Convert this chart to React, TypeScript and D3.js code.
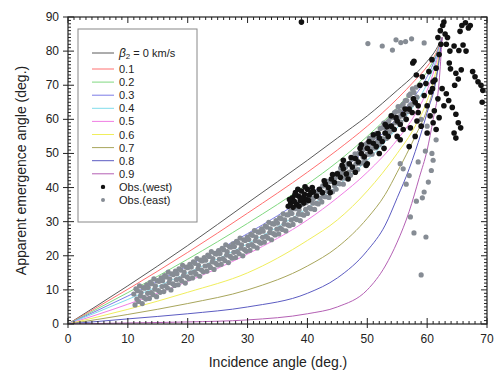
import * as d3 from "d3";

// theoretical curves, one per surface S-wave velocity (km/s)
const betaLabels = ["0 km/s", "0.1", "0.2", "0.3", "0.4", "0.5", "0.6", "0.7", "0.8", "0.9"];
const curveColors = ["#5a5a5a", "#ff7070", "#80d880", "#7c7ce6", "#80dcec", "#f07ee4", "#f0ee5c", "#a8a65c", "#5c5cc2", "#b460b4"];

const curve00 = [[0, 0], [10, 11.2], [20, 23], [30, 35.5], [40, 48], [45, 54.5], [50, 61], [55, 68.5], [58, 73.2], [60, 77], [61.5, 80.5], [62.5, 84]];
const curve01 = [[0, 0], [10, 10.2], [20, 21], [30, 32.5], [40, 44.5], [45, 51], [50, 58], [55, 66], [58, 71.5], [60, 75.5], [61.5, 79.5], [62.5, 84]];
const curve02 = [[0, 0], [10, 9.2], [20, 19], [30, 29.5], [40, 41], [45, 47.5], [50, 55], [55, 63.5], [58, 69.5], [60, 74], [61.5, 79], [62.5, 84]];
const curve03 = [[0, 0], [10, 8.2], [20, 17], [30, 26.5], [40, 37.5], [45, 44], [50, 51.5], [55, 60.5], [58, 67], [60, 72.5], [61.5, 78.5], [62.5, 84]];
const curve04 = [[0, 0], [10, 7.2], [20, 15], [30, 23.5], [40, 34], [45, 40.5], [50, 48], [55, 57.5], [58, 64.5], [60, 70.5], [61.5, 77.5], [62.5, 84]];
const curve05 = [[0, 0], [10, 5.8], [20, 12.5], [30, 20.5], [40, 30.5], [45, 37], [50, 44.5], [55, 54], [58, 61.5], [60, 68.5], [61.5, 76.5], [62.5, 84]];
const curve06 = [[0, 0], [10, 4.3], [20, 9.3], [30, 15], [40, 24.5], [45, 30.5], [50, 39], [55, 50], [58, 58], [60, 65.5], [61.5, 74.5], [62.5, 84]];
const curve07 = [[0, 0], [10, 2.8], [20, 6], [30, 10], [40, 17], [45, 22.5], [50, 31], [53, 38], [55, 44.5], [58, 55], [60, 63], [61.5, 72.5], [62.5, 84]];
const curve08 = [[0, 0], [10, 1.5], [20, 3], [30, 5], [40, 9], [45, 13.5], [50, 21.5], [53, 29], [55, 37], [57, 45.5], [59, 56], [60, 62], [61.5, 71.5], [62.5, 84]];
const curve09 = [[0, 0], [10, 0.3], [20, 0.6], [30, 1.2], [40, 3], [45, 5], [50, 10], [53, 17], [55, 24], [57, 33], [58.7, 43], [60, 51], [61, 60], [62, 71], [62.5, 84]];
const curves = [curve00, curve01, curve02, curve03, curve04, curve05, curve06, curve07, curve08, curve09];

// Obs.(east): dense band, each row = incidence angle + four emergence readings
const eastBand = [
  [11.2, 5.6, 7.3, 8.8, 10.3], [11.8, 6.6, 8.2, 9.8, 11.2], [12.4, 6.0, 7.8, 9.2, 10.7], [13.0, 7.3, 9.0, 10.5, 11.5],
  [13.6, 7.5, 9.2, 10.7, 12.2], [14.2, 8.6, 10.2, 11.8, 13.2], [14.8, 8.0, 9.8, 11.2, 12.7], [15.4, 9.3, 11.0, 12.5, 13.5],
  [16.0, 9.5, 11.2, 12.7, 14.2], [16.6, 10.6, 12.2, 13.8, 15.2], [17.2, 10.0, 11.8, 13.2, 14.7], [17.8, 11.3, 13.0, 14.5, 15.5],
  [18.4, 11.5, 13.2, 14.7, 16.2], [19.0, 12.6, 14.2, 15.8, 17.2], [19.6, 12.0, 13.8, 15.2, 16.7], [20.2, 13.3, 15.0, 16.5, 17.5],
  [20.8, 13.5, 15.2, 16.7, 18.2], [21.4, 14.6, 16.2, 17.8, 19.2], [22.0, 14.0, 15.8, 17.2, 18.7], [22.6, 15.3, 17.0, 18.5, 19.5],
  [23.2, 15.5, 17.2, 18.7, 20.2], [23.8, 16.6, 18.2, 19.8, 21.2], [24.4, 16.0, 17.8, 19.2, 20.7], [25.0, 17.3, 19.0, 20.5, 21.5],
  [25.6, 17.5, 19.2, 20.7, 22.2], [26.2, 18.6, 20.2, 21.8, 23.2], [26.8, 18.0, 19.8, 21.2, 22.7], [27.4, 19.3, 21.0, 22.5, 23.5],
  [28.0, 19.5, 21.2, 22.7, 24.2], [28.6, 20.6, 22.2, 23.8, 25.2], [29.2, 20.0, 21.8, 23.2, 24.7], [29.8, 21.3, 23.0, 24.5, 25.5],
  [30.4, 21.6, 23.3, 24.8, 26.3], [31.0, 22.8, 24.4, 26.0, 27.4], [31.6, 22.3, 24.1, 25.5, 27.0], [32.2, 23.7, 25.4, 26.9, 27.9],
  [32.8, 24.0, 25.7, 27.2, 28.7], [33.4, 25.2, 26.8, 28.4, 29.8], [34.0, 24.7, 26.5, 27.9, 29.4], [34.6, 26.1, 27.8, 29.3, 30.3],
  [35.2, 26.4, 28.1, 29.6, 31.1], [35.8, 27.7, 29.3, 30.9, 32.3], [36.4, 27.3, 29.1, 30.5, 32.0], [37.0, 28.8, 30.5, 32.0, 33.0],
  [37.6, 29.2, 30.9, 32.4, 33.9], [38.2, 30.6, 32.2, 33.8, 35.2], [38.8, 30.3, 32.1, 33.5, 35.0], [39.4, 31.9, 33.6, 35.1, 36.1],
  [40.0, 32.4, 34.1, 35.6, 37.1], [40.6, 33.8, 35.4, 37.0, 38.4], [41.2, 33.6, 35.4, 36.8, 38.3], [41.8, 35.2, 36.9, 38.4, 39.4],
  [42.4, 35.8, 37.5, 39.0, 40.5], [43.0, 37.3, 38.9, 40.5, 41.9], [43.6, 37.1, 38.9, 40.3, 41.8], [44.2, 38.8, 40.5, 42.0, 43.0],
  [44.8, 39.5, 41.2, 42.7, 44.2], [45.4, 41.1, 42.7, 44.3, 45.7], [46.0, 41.0, 42.8, 44.2, 45.7], [46.6, 42.8, 44.5, 46.0, 47.0],
  [47.2, 43.6, 45.3, 46.8, 48.3], [47.8, 45.3, 46.9, 48.5, 49.9], [48.4, 45.3, 47.1, 48.5, 50.0], [49.0, 47.2, 48.9, 50.4, 51.4],
  [49.6, 48.0, 49.7, 51.2, 52.7], [50.2, 49.8, 51.4, 53.0, 54.4], [50.8, 49.8, 51.6, 53.0, 54.5], [51.4, 51.7, 53.4, 54.9, 55.9],
  [52.0, 52.6, 54.3, 55.8, 57.3], [52.6, 54.3, 55.9, 57.5, 58.9], [53.2, 54.4, 56.2, 57.6, 59.1], [53.8, 56.4, 58.1, 59.6, 60.6],
  [54.4, 57.3, 59.0, 60.5, 62.0], [55.0, 59.1, 60.7, 62.3, 63.7], [55.6, 59.2, 61.0, 62.4, 63.9], [56.2, 61.3, 63.0, 64.5, 65.5],
  [56.8, 62.3, 64.0, 65.5, 67.0], [57.4, 64.3, 65.9, 67.5, 68.9], [58.0, 64.7, 66.5, 67.9, 69.4],
];
const bandShift = [0, 0.3, -0.2, 0.15];

// Obs.(east): scattered points away from the band
const eastScatter = [
  [50.1, 82.2], [52.5, 81.5], [54.2, 80.3], [54.8, 83.3], [55.6, 82.5], [56.4, 82.8], [57.4, 83.6], [59.5, 82.4],
  [59.0, 14.4], [57.8, 26.7], [59.8, 25.5], [57.2, 31.4], [59.2, 37], [59.5, 38.7], [60.2, 41.6], [60.7, 45],
  [61, 48], [60.8, 50], [59.7, 50.7], [61.5, 54], [56.5, 41], [57, 43.5], [58.2, 36], [56, 45.5], [55.5, 47],
  [58.5, 47.5], [59, 60], [60, 58],
];

// Obs.(west)
const westPoints = [
  [37.2, 35.5], [37.5, 37], [37.8, 36], [38, 38.5], [38.2, 35], [38.5, 37.5], [38.8, 36.2], [39, 39], [39.2, 37],
  [39.5, 38], [39.8, 36.5], [40, 39.5], [40.3, 37.8], [40.6, 38.5], [37.6, 34.2], [38.6, 34.5], [39.4, 35.5], [40.8, 40],
  [36.8, 34.5], [37, 36.5], [38.4, 39.5], [39.6, 40.2], [40.2, 36.2], [41, 38.8], [37.9, 37.8], [39.1, 36.8],
  [41.5, 37.5], [42, 39.5], [42.5, 38.5], [43, 41], [43.5, 40], [44, 42.5], [44.5, 41.5], [45, 44], [45.5, 43],
  [46, 45.5], [46.5, 44], [47, 47], [47.5, 46], [48, 48.5], [48.5, 47.5], [49, 50], [49.5, 49], [50, 51.5],
  [50.5, 50.5], [51, 53], [51.5, 52], [52, 54.5], [52.5, 53.5], [53, 56], [53.5, 55], [54, 58], [54.5, 57],
  [55, 59.5], [55.5, 58.5], [56, 61.5], [56.5, 60], [57, 63], [57.5, 62], [58, 65], [58.5, 64], [46, 48],
  [48, 44.5], [50, 47], [52, 50], [53, 58.5], [55, 55], [54, 61], [56, 57], [51, 55.5], [49, 52.5],
  [42.8, 42], [44.2, 43.8], [45.8, 46.5], [47.3, 48.8], [48.8, 51.5], [50.3, 53.5], [51.8, 55.8], [53.3, 57.8],
  [54.8, 60.5], [56.3, 63], [57.7, 66], [43.8, 38.5], [46.8, 42.5], [49.8, 46.5], [52.8, 51.5], [55.5, 54],
  [57.2, 57.5], [58.3, 59.5], [57, 52], [58, 55],
  [62.2, 86], [62.6, 87.5], [63, 85], [62.8, 88.5], [63.4, 84], [65.8, 87.5], [66.4, 88.3], [66.9, 86.8], [65.5, 85.8],
  [67.2, 87.5], [63.2, 82], [63.8, 80], [64.5, 81.5], [65.3, 80.2], [66, 81.8], [66.5, 80], [57.6, 76.5], [63.7, 76.5],
  [63.9, 74.8], [64.8, 73.5], [65.2, 71.8], [65.7, 74.5], [64.6, 70], [67.6, 74], [68, 72.5], [68.5, 71], [69, 70],
  [69.3, 68.5], [69.2, 65], [62.5, 69], [63.2, 67.5], [63.6, 65.5], [64.2, 63.5], [62.8, 64], [64.8, 61.5], [65.2, 59],
  [65.6, 57.5], [64.8, 54.5], [64.5, 56], [58.8, 70], [59.5, 67], [60, 64], [60.5, 61], [61, 59], [61.5, 57],
  [59.2, 72.5], [60.3, 74], [61, 71], [61.8, 66], [60.6, 68], [59, 58], [60, 56], [58.5, 62], [61.2, 62.5],
  [62, 60.5], [39, 88.5], [57.8, 77], [58.2, 73], [62, 79], [61.5, 75], [60.8, 77.5], [62.3, 82], [61.8, 84],
  [59.8, 70.5], [60.9, 69], [61.3, 71.5],
];

const xTicks = [0, 10, 20, 30, 40, 50, 60, 70];
const yTicks = [0, 10, 20, 30, 40, 50, 60, 70, 80, 90];

export default function App() {
  const width = 495;
  const height = 372;
  const x = d3.scaleLinear().domain([0, 70]).range([68, 487]);
  const y = d3.scaleLinear().domain([0, 90]).range([324, 17]);

  const line = d3.line<number[]>()
    .x(d => x(d[0]))
    .y(d => y(d[1]))
    .curve(d3.curveMonotoneX);

  const eastPoints = eastBand
    .flatMap(r => r.slice(1).map((v, j) => [r[0] + bandShift[j], v]))
    .concat(eastScatter);

  const xMinor = d3.range(0, 71, 1);
  const yMinor = d3.range(0, 91, 1);
  const font = "'Liberation Sans', Arial, sans-serif";

  const legendX = 78, legendY = 29;
  const rowY = (i: number) => (i === 0 ? 53 : 69 + (i - 1) * 13.1);

  return (
    <svg width={width} height={height} style={{ position: "absolute", left: 0, top: 0, background: "#fff" }} fontFamily={font}>
      <defs>
        <clipPath id="plot">
          <rect x={68} y={17} width={419} height={307} />
        </clipPath>
      </defs>

      {/* curves */}
      <g clipPath="url(#plot)" fill="none">
        {curves.map((c, i) => (
          <path key={i} d={line(c) as string} stroke={curveColors[i]} strokeWidth={1} />
        ))}
      </g>

      {/* observations */}
      <g clipPath="url(#plot)">
        {eastPoints.map((p, i) => (
          <circle key={"e" + i} cx={x(p[0])} cy={y(p[1])} r={2.6} fill="#868c94" />
        ))}
        {westPoints.map((p, i) => (
          <circle key={"w" + i} cx={x(p[0])} cy={y(p[1])} r={2.8} fill="#111" />
        ))}
      </g>

      {/* frame + ticks */}
      <rect x={68} y={17} width={419} height={307} fill="none" stroke="#222" strokeWidth={1.2} />
      <g stroke="#222" strokeWidth={1}>
        {xMinor.map(v => (
          <g key={"xm" + v}>
            <line x1={x(v)} x2={x(v)} y1={324} y2={v % 10 === 0 ? 318 : 321} />
            <line x1={x(v)} x2={x(v)} y1={17} y2={v % 10 === 0 ? 23 : 20} />
          </g>
        ))}
        {xTicks.map(v => (
          <line key={"xo" + v} x1={x(v)} x2={x(v)} y1={324} y2={328} />
        ))}
        {yMinor.map(v => (
          <g key={"ym" + v}>
            <line x1={68} x2={v % 10 === 0 ? 74 : 71} y1={y(v)} y2={y(v)} />
            <line x1={487} x2={v % 10 === 0 ? 481 : 484} y1={y(v)} y2={y(v)} />
          </g>
        ))}
        {yTicks.map(v => (
          <line key={"yo" + v} x1={63} x2={68} y1={y(v)} y2={y(v)} />
        ))}
      </g>

      {/* tick labels */}
      <g fontSize={12} fill="#222">
        {xTicks.map(v => (
          <text key={"xl" + v} x={x(v)} y={343} textAnchor="middle">{v}</text>
        ))}
        {yTicks.map(v => (
          <text key={"yl" + v} x={59} y={y(v) + 4} textAnchor="end">{v}</text>
        ))}
      </g>

      {/* axis titles */}
      <text x={278} y={367} textAnchor="middle" fontSize={14} fill="#222">Incidence angle (deg.)</text>
      <text transform={`translate(26,${y(45)}) rotate(-90)`} textAnchor="middle" fontSize={14} fill="#222">
        Apparent emergence angle (deg.)
      </text>

      {/* legend */}
      <rect x={legendX} y={legendY} width={119} height={193} fill="#fff" stroke="#888" strokeWidth={1} />
      <g fontSize={11} fill="#222">
        {betaLabels.map((lab, i) => {
          const ry = rowY(i);
          return (
            <g key={"lg" + i}>
              <line x1={92} x2={114} y1={ry} y2={ry} stroke={curveColors[i]} strokeWidth={1} />
              {i === 0 ? (
                <text x={119} y={ry + 4}>
                  <tspan fontStyle="italic" fontSize={12}>β</tspan>
                  <tspan fontSize={8} dy={2}>2</tspan>
                  <tspan dy={-2}> = 0 km/s</tspan>
                </text>
              ) : (
                <text x={119} y={ry + 4}>{lab}</text>
              )}
            </g>
          );
        })}
        <circle cx={103} cy={rowY(10)} r={2.2} fill="#111" />
        <text x={119} y={rowY(10) + 4}>Obs.(west)</text>
        <circle cx={103} cy={rowY(11)} r={2} fill="#868c94" />
        <text x={119} y={rowY(11) + 4}>Obs.(east)</text>
      </g>
    </svg>
  );
}
